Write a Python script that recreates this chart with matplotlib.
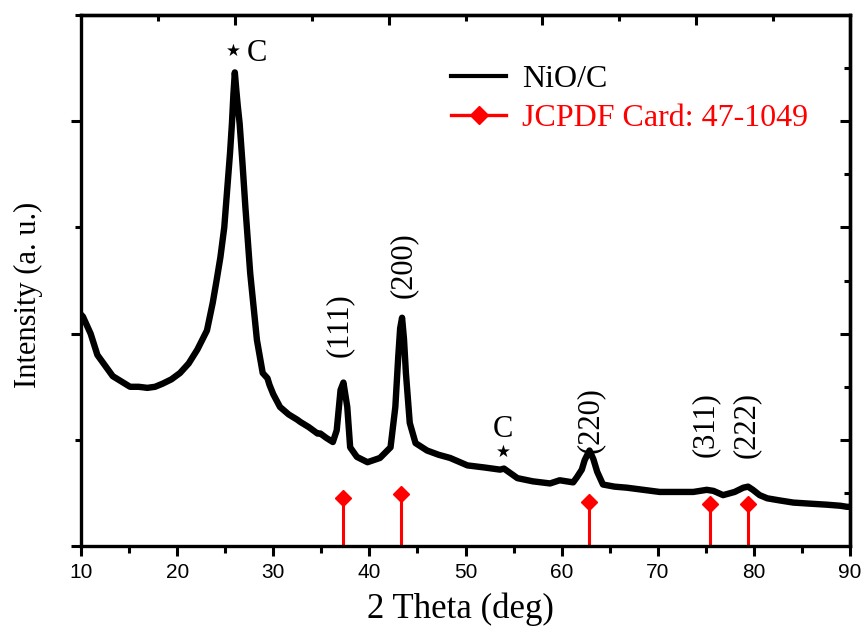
import matplotlib
matplotlib.use("Agg")
import matplotlib.pyplot as plt
from matplotlib.lines import Line2D

# ---- data ----
two_theta = [10.0, 10.2, 11.0, 11.7, 12.5, 13.3, 14.2, 15.1, 16.0, 16.9, 17.7, 18.5,
             19.4, 20.3, 21.2, 22.1, 23.1, 23.7, 24.1, 24.5, 24.9, 25.2, 25.5, 25.7,
             25.85, 26.0, 26.15, 26.3, 26.5, 26.8, 27.1, 27.6, 28.3, 28.9, 29.4, 29.6,
             30.0, 30.7, 31.6, 32.5, 32.8, 33.7, 34.6, 34.9, 35.5, 36.2, 36.6, 37.0,
             37.3, 37.7, 38.0, 38.7, 39.8, 41.1, 42.2, 42.7, 43.0, 43.2, 43.4, 43.6,
             43.8, 44.2, 44.8, 46.0, 47.2, 48.4, 50.2, 52.0, 53.6, 54.0, 55.4, 57.0,
             58.8, 59.8, 61.2, 61.6, 62.1, 62.4, 62.9, 63.3, 63.7, 64.3, 65.5, 66.8,
             68.5, 70.2, 72.0, 73.7, 75.1, 75.8, 76.8, 78.0, 78.9, 79.4, 79.9, 80.6,
             81.4, 82.7, 84.1, 85.8, 87.6, 89.0, 89.7, 90.0]
intensity = [2.18, 2.16, 2.00, 1.80, 1.70, 1.60, 1.55, 1.50, 1.50, 1.49, 1.50, 1.53,
             1.57, 1.63, 1.72, 1.85, 2.03, 2.29, 2.50, 2.72, 3.00, 3.35, 3.70, 3.98,
             4.25, 4.46, 4.30, 4.15, 3.98, 3.60, 3.19, 2.57, 1.94, 1.63, 1.58, 1.52,
             1.43, 1.31, 1.24, 1.19, 1.17, 1.12, 1.06, 1.06, 1.02, 0.98, 1.09, 1.47,
             1.54, 1.31, 0.93, 0.84, 0.79, 0.83, 0.93, 1.31, 1.78, 2.05, 2.15, 1.95,
             1.63, 1.16, 0.97, 0.90, 0.86, 0.83, 0.76, 0.74, 0.72, 0.73, 0.64, 0.61,
             0.59, 0.62, 0.60, 0.65, 0.72, 0.81, 0.90, 0.82, 0.70, 0.58, 0.56, 0.55,
             0.53, 0.51, 0.51, 0.51, 0.53, 0.52, 0.48, 0.51, 0.55, 0.56, 0.53, 0.48,
             0.45, 0.43, 0.41, 0.40, 0.39, 0.38, 0.37, 0.37]

ref_pos = [37.25, 43.28, 62.88, 75.42, 79.41]
ref_height = [0.45, 0.49, 0.42, 0.40, 0.40]

peak_labels = ["(111)", "(200)", "(220)", "(311)", "(222)"]
peak_label_x = [36.85, 43.5, 63.0, 75.0, 79.2]
peak_label_y = [2.08, 2.65, 1.19, 1.14, 1.14]

x_ticks = [10, 20, 30, 40, 50, 60, 70, 80, 90]

# ---- figure ----
serif = "Liberation Serif"
sans = "Liberation Sans"

fig = plt.figure(figsize=(8.63, 6.27), dpi=100)
ax = fig.add_axes([0.0939, 0.129, 0.891, 0.847])

ax.plot(two_theta, intensity, color="black", lw=4.6, solid_joinstyle="round",
        solid_capstyle="round")

ax.vlines(ref_pos, 0, ref_height, color="red", lw=2.2)
ax.plot(ref_pos, ref_height, linestyle="none", marker="D", ms=8, color="red")

ax.set_xlim(10, 90)
ax.set_ylim(0, 5)

for s in ax.spines.values():
    s.set_linewidth(2.4)

ax.set_xticks(x_ticks)
ax.set_xticks([15, 25, 35, 45, 55, 65, 75, 85], minor=True)
ax.set_yticks([0, 2, 4])
ax.set_yticks([1, 3, 5], minor=True)
ax.set_yticklabels([])
ax.tick_params(axis="x", which="major", direction="out", length=7, width=2.2,
               labelsize=15, pad=5)
ax.tick_params(axis="x", which="minor", direction="out", length=5, width=2.2)
ax.tick_params(axis="y", which="major", direction="out", length=7, width=2.2)
ax.tick_params(axis="y", which="minor", direction="out", length=4, width=2.2)
for lab in ax.get_xticklabels():
    lab.set_fontfamily(sans)

top = ax.secondary_xaxis("top")
top.set_xticks([26, 42, 58, 74])
top.set_xticks([18, 34, 50, 66, 82], minor=True)
top.tick_params(which="major", direction="in", length=7, width=2.2, labeltop=False)
top.tick_params(which="minor", direction="in", length=4, width=2.2)
top.spines["top"].set_linewidth(2.4)

right = ax.secondary_yaxis("right")
right.set_yticks([1, 2, 3, 4])
right.set_yticks([0.5, 1.5, 2.5, 3.5, 4.5], minor=True)
right.tick_params(which="major", direction="in", length=7, width=2.2, labelright=False)
right.tick_params(which="minor", direction="in", length=4, width=2.2)
right.spines["right"].set_linewidth(2.4)

ax.set_xlabel("2 Theta (deg)", fontfamily=serif, fontsize=25)
ax.xaxis.set_label_coords(0.493, -0.088)
ax.set_ylabel("Intensity (a. u.)", fontfamily=serif, fontsize=22)
ax.yaxis.set_label_coords(-0.05, 0.473)

# annotations
ax.text(25.8, 4.66, "\u2605", ha="center", va="center", fontsize=12,
        fontfamily="DejaVu Sans")
ax.text(27.2, 4.64, "C", ha="left", va="center", fontsize=22, fontfamily=serif)
ax.text(53.9, 0.89, "\u2605", ha="center", va="center", fontsize=12,
        fontfamily="DejaVu Sans")
ax.text(53.9, 1.10, "C", ha="center", va="center", fontsize=22, fontfamily=serif)
for lab, lx, ly in zip(peak_labels, peak_label_x, peak_label_y):
    ax.text(lx, ly, lab, rotation=90, ha="center", va="center", fontsize=22,
            fontfamily=serif)

handles = [Line2D([], [], color="black", lw=3.0),
           Line2D([], [], color="red", lw=2.4, marker="D", ms=9)]
leg = ax.legend(handles, ["NiO/C", "JCPDF Card: 47-1049"], loc="upper left",
                bbox_to_anchor=(0.465, 0.93), frameon=False,
                prop={"family": serif, "size": 23}, handlelength=1.7,
                handletextpad=0.5, labelspacing=0.3, borderaxespad=0)
leg.get_texts()[1].set_color("red")

fig.savefig("out.png", dpi=100)
